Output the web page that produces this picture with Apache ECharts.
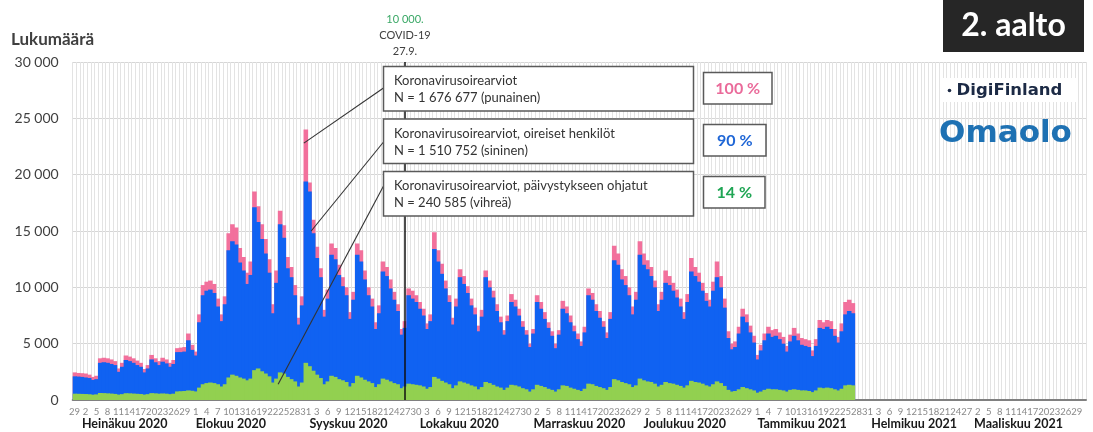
<!DOCTYPE html>
<html>
<head>
<meta charset="utf-8">
<script src="https://cdn.jsdelivr.net/npm/echarts/dist/echarts.min.js"></script>
<style>
  html, body { margin: 0; padding: 0; background: #ffffff; }
  #chart { width: 1093px; height: 432px; }
</style>
</head>
<body>
<div id="chart"></div>
<script>
// Day axis: 29.6.2020 – 31.3.2021, one category per day
const AXIS_START = Date.UTC(2020, 5, 29);
const AXIS_DAYS = 276;
const COVID_MARK_DAY = '2020-09-27';

const monthNames = [
  'Heinäkuu 2020', 'Elokuu 2020', 'Syyskuu 2020', 'Lokakuu 2020', 'Marraskuu 2020',
  'Joulukuu 2020', 'Tammikuu 2021', 'Helmikuu 2021', 'Maaliskuu 2021'
];

// Daily symptom assessments, Mon..Sun per row, starting 29.6.2020
const pinkTotal = [
  2450, 2400, 2380, 2350, 2250, 2050, 2150,
  3700, 3750, 3700, 3600, 3450, 2800, 3300,
  3950, 3850, 3700, 3500, 3300, 2750, 3100,
  4000, 3700, 3450, 3750, 3600, 3300, 3550,
  4600, 4650, 4700, 5900, 4900, 4300, 7600,
  10200, 10500, 10600, 10300, 9000, 7600, 9200,
  14800, 15600, 15300, 13500, 12700, 11300, 12300,
  18500, 17200, 15600, 14300, 12500, 8500, 11500,
  16800, 15500, 12700, 11800, 10200, 7300, 9200,
  24000, 19300, 16000, 13600, 11700, 8000, 9800,
  13900, 13500, 12000, 10900, 10000, 7800, 9600,
  13900, 13300, 11500, 10000, 9000, 6900, 8400,
  12300, 11800, 10700, 9600, 8500, 6300, 7000,
  9900, 9700, 9300, 8700, 8100, 6800, 7600,
  14900, 13300, 12100, 10600, 9300, 7300, 9000,
  11600, 11000, 10100, 9000, 8200, 6600, 8000,
  11500, 10600, 9700, 8500, 7400, 6200, 7500,
  9400, 8900, 8100, 7000, 6200, 5000, 6300,
  9300, 8700, 7800, 6900, 6100, 5000, 6200,
  8800, 8300, 7500, 6600, 5900, 5200, 6500,
  9900, 9500, 8500, 7900, 7000, 6000, 7800,
  13700, 13000, 11600, 11000, 10000, 8300, 9600,
  14100, 13000, 12400, 11800, 10600, 8500, 9600,
  11500, 11000, 10400, 9800, 9000, 7800, 9400,
  12600, 11800, 11300, 10400, 9500, 8900, 10500,
  12300, 11000, 9000, 6100, 5000, 5200, 6500,
  8100, 7600, 6600, 5700, 4000, 4900, 5900,
  6500, 6200, 6300, 6000, 5600, 4800, 5800,
  6400, 5900, 5500, 5400, 5300, 4400, 5400,
  7100, 6900, 7100, 7000, 6300, 5600, 6800,
  8700, 8900, 8600
];

const blueSymptomatic = [
  2100, 2080, 2050, 2000, 1950, 1780, 1850,
  3300, 3350, 3300, 3200, 3100, 2500, 2950,
  3550, 3450, 3300, 3100, 2950, 2450, 2800,
  3600, 3350, 3100, 3400, 3250, 2950, 3200,
  4250, 4250, 4300, 5300, 4450, 3950, 6900,
  9300, 9700, 9800, 9500, 8300, 7000, 8500,
  13300, 14100, 13800, 12200, 11500, 10300, 11100,
  17100, 15800, 14300, 13000, 11300, 7700, 10400,
  15600, 14400, 11700, 10900, 9300, 6700, 8400,
  19400, 18500, 14800, 12600, 10900, 7400, 9000,
  12900, 12500, 11100, 10100, 9300, 7200, 8900,
  12900, 12300, 10700, 9300, 8300, 6300, 7700,
  11400, 11000, 9900, 8900, 7900, 5800, 6400,
  9300, 9000, 8700, 8100, 7500, 6300, 7000,
  13400, 12300, 11200, 9900, 8700, 6700, 8300,
  10900, 10300, 9500, 8400, 7600, 6100, 7400,
  10900, 10000, 9100, 7900, 6900, 5800, 7000,
  8700, 8300, 7500, 6500, 5800, 4700, 5900,
  8700, 8100, 7200, 6400, 5700, 4600, 5800,
  8100, 7700, 6900, 6100, 5400, 4800, 6000,
  9300, 8900, 7900, 7300, 6500, 5500, 7200,
  12400, 12000, 10700, 10200, 9300, 7600, 8900,
  12900, 12000, 11600, 11000, 10000, 7900, 8900,
  10400, 10200, 9700, 9100, 8300, 7200, 8700,
  11400, 11000, 10500, 9700, 8800, 8300, 9700,
  10900, 10000, 8200, 5500, 4500, 4700, 5900,
  7400, 6900, 6000, 5100, 3600, 4400, 5300,
  5900, 5600, 5700, 5400, 5000, 4300, 5200,
  5700, 5300, 4900, 4800, 4700, 3900, 4800,
  6400, 6300, 6500, 6300, 5700, 5100, 6100,
  7600, 7900, 7700
];

const greenReferred = [
  560, 550, 540, 530, 510, 470, 500,
  620, 610, 590, 570, 540, 480, 520,
  600, 590, 570, 550, 530, 480, 520,
  610, 590, 560, 580, 560, 520, 560,
  760, 780, 800, 850, 820, 760, 1100,
  1400, 1500, 1550, 1500, 1400, 1200, 1400,
  2000, 2250, 2150, 2000, 1900, 1750, 1900,
  2650, 2800, 2550, 2350, 2100, 1550, 1900,
  2450, 2350, 2050, 1850, 1650, 1200, 1550,
  3300, 3000, 2600, 2250, 1950, 1400, 1650,
  2150, 2050, 1850, 1750, 1600, 1200, 1500,
  2150, 2000, 1800, 1650, 1500, 1150, 1400,
  1900, 1800, 1650, 1500, 1400, 1050, 1200,
  1450, 1400, 1350, 1300, 1200, 1000, 1150,
  2050, 1900, 1700, 1550, 1400, 1050, 1300,
  1650, 1550, 1450, 1300, 1200, 950, 1150,
  1600, 1500, 1350, 1200, 1100, 900, 1100,
  1350, 1300, 1200, 1050, 950, 750, 950,
  1350, 1250, 1150, 1000, 900, 750, 950,
  1300, 1250, 1100, 1000, 900, 800, 1000,
  1450, 1400, 1250, 1150, 1050, 900, 1150,
  1850, 1750, 1600, 1500, 1400, 1150, 1300,
  1900, 1750, 1650, 1600, 1450, 1200, 1350,
  1600, 1500, 1450, 1350, 1250, 1100, 1300,
  1700, 1600, 1550, 1450, 1300, 1200, 1400,
  1650, 1500, 1250, 900, 750, 800, 950,
  1150, 1050, 950, 850, 650, 750, 900,
  1000, 950, 950, 900, 850, 750, 900,
  950, 900, 850, 850, 800, 700, 850,
  1100, 1050, 1100, 1050, 950, 850, 1000,
  1300, 1350, 1300
];

const yTicks = [0, 5000, 10000, 15000, 20000, 25000, 30000];

// Build day categories (ISO dates)
const days = [];
for (let i = 0; i < AXIS_DAYS; i++) {
  days.push(new Date(AXIS_START + i * 86400000).toISOString().slice(0, 10));
}
const monthStartIdx = [];
days.forEach((d, i) => { if (d.slice(8) === '01') monthStartIdx.push(i); });
const monthLabelAt = {};
monthStartIdx.forEach((idx, k) => { monthLabelAt[idx] = monthNames[k]; });

const COLORS = { pink: '#f2709c', blue: '#1062f2', green: '#92d050' };
const FONT = 'Lato, "Open Sans", sans-serif';

function fmtThousands(v) {
  if (v === 0) return '0';
  return String(v).replace(/\B(?=(\d{3})+(?!\d))/g, ' ');
}

const chart = echarts.init(document.getElementById('chart'), null, { renderer: 'canvas' });

// Bars slightly wider than one day so neighbouring days merge into a solid fill
function barSeries(name, data, color, extra) {
  return Object.assign({
    name: name,
    type: 'bar',
    data: data,
    xAxisIndex: 0,
    yAxisIndex: 0,
    barGap: '-100%',
    barWidth: 4.6,
    itemStyle: { color: color },
    emphasis: { disabled: true },
    silent: true
  }, extra || {});
}

const option = {
  animation: false,
  backgroundColor: '#ffffff',
  textStyle: { fontFamily: FONT },
  grid: { left: 72.7, right: 7, top: 62, bottom: 32, containLabel: false },
  xAxis: [
    {
      type: 'category',
      data: days,
      boundaryGap: true,
      axisLine: { show: true, lineStyle: { color: '#808080', width: 2 } },
      axisTick: { show: false },
      splitLine: { show: true, interval: 0, lineStyle: { color: '#e3e3e3', width: 1 } },
      axisLabel: {
        interval: 2,
        margin: 7,
        fontSize: 9.5,
        fontFamily: FONT,
        color: '#8a8a8a',
        formatter: v => String(parseInt(v.slice(8), 10))
      }
    },
    {
      type: 'category',
      data: days,
      position: 'bottom',
      boundaryGap: true,
      axisLine: { show: false },
      axisTick: { show: false },
      splitLine: { show: false },
      axisLabel: {
        interval: (idx) => monthLabelAt[idx] !== undefined,
        margin: 17,
        align: 'left',
        fontSize: 12.5,
        fontWeight: 'bold',
        fontFamily: FONT,
        color: '#1a1a1a',
        formatter: (v, idx) => monthLabelAt[idx] || ''
      }
    }
  ],
  yAxis: {
    type: 'value',
    min: yTicks[0],
    max: yTicks[yTicks.length - 1],
    interval: yTicks[1] - yTicks[0],
    axisLine: { show: false },
    axisTick: { show: false },
    splitLine: { show: true, lineStyle: { color: '#d6d6d6', width: 1 } },
    axisLabel: {
      margin: 14,
      fontSize: 14,
      fontFamily: FONT,
      color: '#404040',
      formatter: fmtThousands
    }
  },
  series: [
    barSeries('Koronavirusoirearviot', pinkTotal, COLORS.pink, {
      markLine: {
        silent: true,
        symbol: 'none',
        z: 10,
        lineStyle: { color: '#111111', width: 1.5, type: 'solid' },
        label: {
          show: true,
          position: 'end',
          distance: 3,
          formatter: '{g|10 000.}\n{t|COVID-19}\n{t|27.9.}',
          rich: {
            g: { color: '#3aa866', fontSize: 11, fontFamily: FONT, lineHeight: 16, align: 'center' },
            t: { color: '#404040', fontSize: 11, fontFamily: FONT, lineHeight: 16, align: 'center' }
          }
        },
        data: [{ xAxis: COVID_MARK_DAY }]
      }
    }),
    barSeries('Koronavirusoirearviot, oireiset henkilöt', blueSymptomatic, COLORS.blue),
    barSeries('Koronavirusoirearviot, päivystykseen ohjatut', greenReferred, COLORS.green)
  ]
};

chart.setOption(option);

// Annotation boxes, percentage badges, logos and leader lines
function box(x, y, w, h) {
  return { type: 'rect', z: 100, shape: { x: x, y: y, width: w, height: h },
    style: { fill: '#ffffff', stroke: '#5a5a5a', lineWidth: 1.5 } };
}
function txt(text, x, y, size, color, weight, align, family) {
  return { type: 'text', z: 101, x: x, y: y,
    style: { text: text, fontSize: size, fontFamily: family || FONT, fontWeight: weight || 'normal',
      fill: color, align: align || 'left', verticalAlign: 'middle' } };
}
function px(dayIdx, value) {
  return chart.convertToPixel({ xAxisIndex: 0, yAxisIndex: 0 }, [days[dayIdx], value]);
}

const boxLeft = 383.5, boxW = 310, boxH = 44.5;
const boxTops = [66.5, 119, 171.5];
const leaderTargets = [[63, 22800], [65, 15000], [56, 1400]];
const leaderStartY = [88, 142, 186];

const graphics = [];
leaderTargets.forEach((t, k) => {
  const p = px(t[0], t[1]);
  graphics.push({ type: 'line', z: 99,
    shape: { x1: boxLeft, y1: leaderStartY[k], x2: p[0] - 2, y2: p[1] },
    style: { stroke: '#333333', lineWidth: 1.1 } });
});

const boxLines = [
  ['Koronavirusoirearviot', 'N = 1 676 677 (punainen)'],
  ['Koronavirusoirearviot, oireiset henkilöt', 'N = 1 510 752 (sininen)'],
  ['Koronavirusoirearviot, päivystykseen ohjatut', 'N = 240 585 (vihreä)']
];
boxTops.forEach((top, k) => {
  graphics.push(box(boxLeft, top, boxW, boxH));
  graphics.push(txt(boxLines[k][0], 394, top + 14.5, 13, '#333333'));
  graphics.push(txt(boxLines[k][1], 394, top + 31.5, 13, '#333333'));
});

const badges = [
  { text: '100 %', color: '#ea6a9a', top: 72.5, w: 68.5 },
  { text: '90 %', color: '#1f66d6', top: 124.5, w: 62.5 },
  { text: '14 %', color: '#1fa554', top: 176.5, w: 61.5 }
];
badges.forEach(b => {
  graphics.push(box(703.5, b.top, b.w, 31.5));
  graphics.push(txt(b.text, 703.5 + b.w / 2, b.top + 16, 16, b.color, 'bold', 'center'));
});

// Titles and logos
graphics.push(txt('Lukumäärä', 11, 40, 17, '#404040', 'bold'));
graphics.push({ type: 'rect', z: 100, shape: { x: 943, y: 0, width: 141, height: 52 },
  style: { fill: '#262626' } });
graphics.push(txt('2. aalto', 1013.5, 26, 32, '#ffffff', 'bold', 'center'));
graphics.push({ type: 'rect', z: 100, shape: { x: 940, y: 78, width: 138, height: 24 },
  style: { fill: '#ffffff' } });
graphics.push({ type: 'circle', z: 101, shape: { cx: 949.5, cy: 90.5, r: 1.8 },
  style: { fill: '#1c2a45' } });
graphics.push(txt('DigiFinland', 1009.5, 90.5, 16.5, '#1c2a45', 'bold', 'center', '"DejaVu Sans", sans-serif'));
graphics.push(txt('Omaolo', 1005.5, 134, 31, '#1e71b3', 'bold', 'center', '"DejaVu Sans", sans-serif'));

chart.setOption({ graphic: graphics });
</script>
</body>
</html>
